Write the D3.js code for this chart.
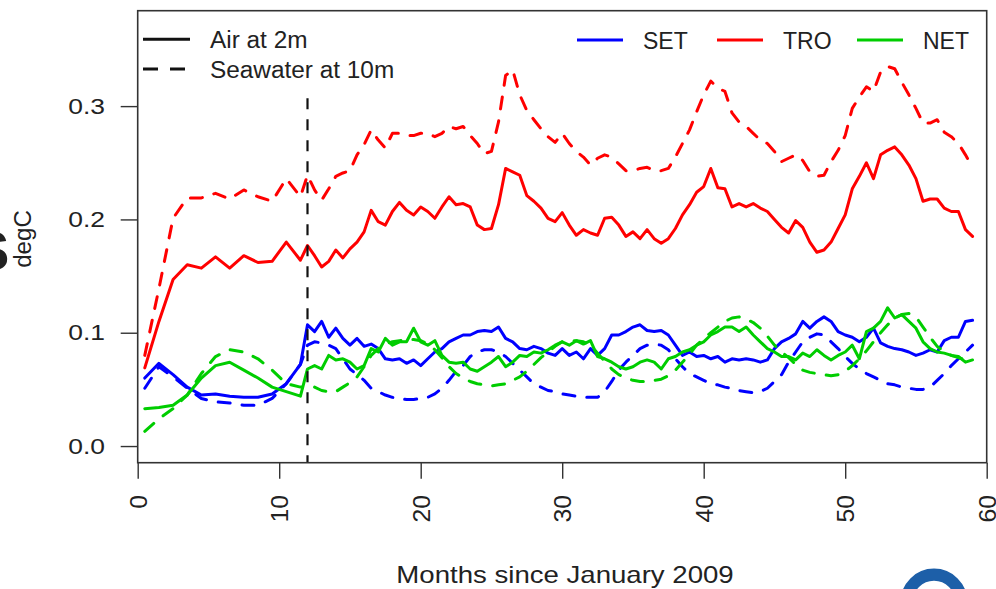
<!DOCTYPE html>
<html>
<head>
<meta charset="utf-8">
<script src="https://cdn.jsdelivr.net/npm/d3@7"></script>
<style>
  html, body { margin: 0; padding: 0; background: #fff; overflow: hidden; }
  svg { display: block; }
  text { font-family: "Liberation Sans", Arial, Helvetica, sans-serif; fill: #222; }
</style>
</head>
<body>
<svg id="chart" width="996" height="589"></svg>
<script>
// ---- time axis: monthly means for the first year, half-monthly afterwards ----
const monthsEarly = [0.5, 1.5, 2.5, 3.5, 4.5, 5.5, 6.5, 7.5, 8.5, 9.5, 10.5, 11.5];
const monthsLater = d3.range(12, 59.001, 0.5);
const months = monthsEarly.concat(monthsLater);

// ---- regions and levels ----
const regions = ["SET", "TRO", "NET"];
const regionColors = ["#0000ff", "#ff0000", "#00cd00"];
const levels = ["Air at 2m", "Seawater at 10m"];

// ---- series values (degC) ----
const airSET = [
  .060, .073, .063, .052, .045, .046, .044, .043, .043, .046, .055, .072,
  .107, .101, .110, .096, .104, .095, .089, .095, .088, .090,
  .086, .077, .076, .077, .073, .076, .071, .077, .083, .086,
  .092, .095, .098, .098, .101, .102, .101, .105, .095, .092,
  .086, .085, .088, .086, .082, .080, .086, .080, .083, .077,
  .086, .080, .086, .098, .098, .101, .105, .107, .102, .101,
  .102, .098, .089, .080, .083, .079, .080, .077, .079, .074,
  .077, .076, .077, .076, .074, .076, .086, .092, .095, .099,
  .110, .104, .110, .114, .110, .101, .098, .096, .092, .096,
  .104, .091, .088, .086, .085, .083, .080, .082, .085, .083,
  .093, .096, .096, .110, .111
];
const seaSET = [
  .051, .070, .061, .051, .042, .039, .038, .036, .036, .042, .055, .072,
  .089, .092, .091, .089, .086, .077, .068, .063, .058, .051,
  .048, .045, .043, .042, .041, .041, .042, .043, .046, .051,
  .058, .066, .071, .079, .083, .085, .085, .083, .079, .073,
  .067, .061, .055, .052, .049, .048, .046, .045, .044, .043,
  .043, .043, .048, .057, .067, .074, .080, .086, .089, .090,
  .089, .085, .077, .070, .064, .061, .058, .055, .054, .052,
  .051, .049, .048, .047, .048, .051, .057, .063, .074, .083,
  .092, .096, .099, .098, .092, .086, .079, .073, .068, .064,
  .061, .058, .055, .054, .052, .051, .050, .050, .052, .058,
  .064, .071, .077, .083, .089
];
const airTRO = [
  .069, .110, .147, .160, .157, .167, .157, .168, .162, .163, .180, .164,
  .177, .168, .158, .163, .173, .166, .174, .180, .189, .208,
  .198, .195, .207, .215, .208, .204, .211, .207, .201, .211,
  .220, .213, .214, .211, .195, .191, .192, .213, .245, .242,
  .239, .221, .216, .210, .201, .198, .206, .195, .186, .191,
  .188, .186, .201, .202, .195, .185, .189, .183, .191, .183,
  .179, .183, .192, .204, .213, .224, .229, .245, .228, .227,
  .211, .214, .211, .214, .210, .207, .200, .193, .188, .199,
  .193, .180, .171, .173, .180, .192, .204, .227, .238, .250,
  .236, .257, .261, .264, .257, .248, .236, .216, .218, .218,
  .210, .207, .207, .191, .185
];
const seaTRO = [
  .080, .139, .201, .219, .219, .223, .218, .226, .220, .216, .236, .220,
  .239, .226, .217, .227, .238, .241, .243, .257, .266, .279,
  .270, .263, .276, .276, .274, .274, .276, .276, .273, .276,
  .282, .280, .282, .274, .267, .258, .260, .286, .327, .332,
  .310, .296, .288, .280, .273, .268, .276, .267, .260, .255,
  .248, .254, .257, .255, .249, .243, .243, .245, .246, .243,
  .243, .245, .255, .267, .279, .295, .310, .322, .316, .313,
  .294, .286, .282, .276, .270, .267, .260, .251, .254, .257,
  .252, .242, .238, .239, .251, .261, .274, .298, .308, .317,
  .313, .330, .335, .333, .321, .310, .298, .285, .285, .288,
  .277, .273, .267, .257, .246
];
const airNET = [
  .033, .034, .036, .045, .060, .071, .074, .067, .060, .052, .048, .044,
  .068, .071, .068, .080, .076, .077, .074, .068, .071, .086,
  .083, .095, .089, .092, .092, .104, .092, .089, .093, .080,
  .074, .073, .074, .068, .066, .070, .074, .079, .070, .074,
  .080, .079, .083, .082, .085, .089, .092, .089, .093, .090,
  .093, .079, .077, .074, .070, .068, .070, .074, .076, .074,
  .068, .077, .079, .083, .085, .089, .092, .098, .101, .105,
  .105, .101, .105, .098, .092, .086, .083, .079, .079, .076,
  .082, .079, .085, .080, .076, .080, .083, .089, .077, .101,
  .104, .110, .122, .113, .116, .110, .104, .092, .086, .083,
  .082, .080, .079, .074, .076
];
const seaNET = [
  .013, .024, .033, .045, .064, .079, .085, .083, .077, .067, .055, .052,
  .052, .052, .049, .048, .048, .052, .056, .061, .070, .080,
  .086, .090, .092, .093, .094, .094, .093, .090, .085, .078,
  .070, .064, .060, .057, .055, .054, .053, .054, .055, .058,
  .061, .066, .072, .078, .083, .088, .092, .093, .093, .092,
  .089, .082, .075, .068, .063, .060, .058, .057, .057, .058,
  .059, .062, .067, .074, .081, .089, .095, .100, .105, .110,
  .113, .114, .112, .109, .104, .097, .089, .083, .078, .072,
  .067, .065, .064, .063, .062, .063, .066, .071, .077, .084,
  .092, .100, .107, .113, .116, .117, .114, .105, .096, .088,
  .083, .080, .078, .076, .074
];

// ---- axis ticks ----
const xTicks = [0, 10, 20, 30, 40, 50, 60];
const yTicks = [0.0, 0.1, 0.2, 0.3];
const breakMonth = 12;        // start of the half-monthly record
const breakTop = 0.307;       // upper end of the marker line

const series = [
  { values: airSET, region: 0, level: 0 },
  { values: seaSET, region: 0, level: 1 },
  { values: airTRO, region: 1, level: 0 },
  { values: seaTRO, region: 1, level: 1 },
  { values: airNET, region: 2, level: 0 },
  { values: seaNET, region: 2, level: 1 }
];

// ---- layout ----
const svg = d3.select("#chart");
const plot = { left: 137.7, right: 986.7, top: 10.7, bottom: 462.7 };
const x = d3.scaleLinear().domain([0, 60]).range([plot.left, plot.right]);
const y = d3.scaleLinear().domain([-0.0147, 0.3842]).range([plot.bottom, plot.top]);

const dashData = "12,12";
const lineW = 3;

// data lines
const line = d3.line().x(d => x(d[0])).y(d => y(d[1]));
const gLines = svg.append("g");
series.forEach(s => {
  gLines.append("path")
    .datum(months.map((m, i) => [m, s.values[i]]))
    .attr("d", line)
    .attr("fill", "none")
    .attr("stroke", regionColors[s.region])
    .attr("stroke-width", lineW)
    .attr("stroke-linejoin", "round")
    .attr("stroke-linecap", "round")
    .attr("stroke-dasharray", s.level === 1 ? dashData : null);
});

// vertical marker where the record changes resolution
svg.append("line")
  .attr("x1", x(breakMonth)).attr("x2", x(breakMonth))
  .attr("y1", y(breakTop)).attr("y2", plot.bottom)
  .attr("stroke", "#111").attr("stroke-width", 2.2)
  .attr("stroke-dasharray", "11,10");

// plot frame
svg.append("rect")
  .attr("x", plot.left).attr("y", plot.top)
  .attr("width", plot.right - plot.left).attr("height", plot.bottom - plot.top)
  .attr("fill", "none").attr("stroke", "#333").attr("stroke-width", 1.6);

// y axis
const yAxis = d3.axisLeft(y).tickValues(yTicks).tickFormat(d3.format(".1f"))
  .tickSize(17).tickPadding(14);
const gy = svg.append("g").attr("transform", `translate(${plot.left},0)`).call(yAxis);
gy.select(".domain").remove();
gy.selectAll(".tick line").attr("stroke", "#333").attr("stroke-width", 1.4);
gy.selectAll(".tick text")
  .attr("font-size", 22).attr("fill", "#222").attr("font-family", null)
  .attr("x", 0).attr("text-anchor", "end")
  .attr("transform", "translate(-32.7,0) scale(1.2,1)");

// x axis with perpendicular labels
const xAxis = d3.axisBottom(x).tickValues(xTicks).tickFormat(d3.format("d"))
  .tickSize(16).tickPadding(0);
const gx = svg.append("g").attr("transform", `translate(0,${plot.bottom})`).call(xAxis);
gx.select(".domain").remove();
gx.selectAll(".tick line").attr("stroke", "#333").attr("stroke-width", 1.4);
gx.selectAll(".tick text")
  .attr("font-size", 23).attr("fill", "#222").attr("font-family", null)
  .attr("text-anchor", "end").attr("dy", null).attr("y", 0).attr("x", 0)
  .attr("transform", "translate(8.3,32.3) rotate(-90) scale(1.08,1)");

// axis titles
svg.append("text")
  .attr("transform", "translate(565,583) scale(1.2,1)")
  .attr("text-anchor", "middle").attr("font-size", 23)
  .text("Months since January 2009");
svg.append("text")
  .attr("transform", "translate(31,239) rotate(-90) scale(1.05,1)")
  .attr("text-anchor", "middle").attr("font-size", 23)
  .text("degC");

// neighbouring heading, cut by the page edge
svg.append("text")
  .attr("x", -28).attr("y", 270)
  .attr("font-size", 56).attr("font-weight", "bold").attr("fill", "#000")
  .text("S");

// logo ring, partly below the page edge
svg.append("circle")
  .attr("cx", 934).attr("cy", 602).attr("r", 27.3)
  .attr("fill", "none").attr("stroke", "#1d5fa8").attr("stroke-width", 12.2);

// legend: levels (line style)
const gLevel = svg.append("g");
levels.forEach((name, i) => {
  const ly = 39.3 + i * 29.7;
  gLevel.append("line")
    .attr("x1", 143).attr("x2", 190).attr("y1", ly).attr("y2", ly)
    .attr("stroke", "#111").attr("stroke-width", lineW)
    .attr("stroke-linecap", "butt")
    .attr("stroke-dasharray", i === 1 ? "15,12" : null);
  gLevel.append("text")
    .attr("transform", `translate(210,${ly + 8.8}) scale(1.06,1)`)
    .attr("font-size", 23)
    .text(name);
});

// legend: regions (colour)
const gRegion = svg.append("g");
regions.forEach((name, i) => {
  const lx = 577 + i * 140;
  gRegion.append("line")
    .attr("x1", lx).attr("x2", lx + 46).attr("y1", 40).attr("y2", 40)
    .attr("stroke", regionColors[i]).attr("stroke-width", lineW);
  gRegion.append("text")
    .attr("x", lx + 66).attr("y", 49).attr("font-size", 23)
    .text(name);
});
</script>
</body>
</html>
